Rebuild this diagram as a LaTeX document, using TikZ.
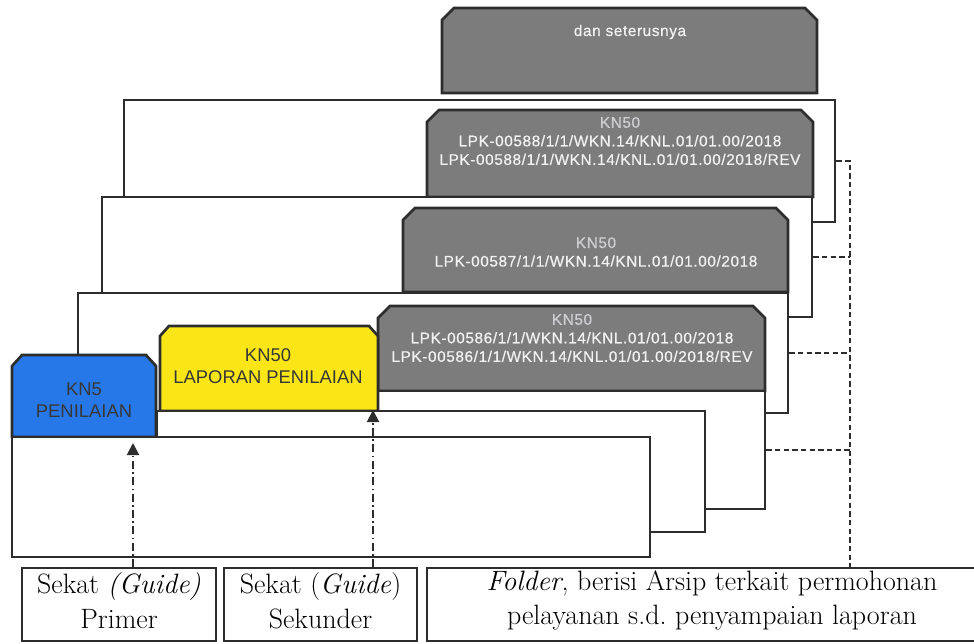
\documentclass[tikz,border=0pt]{standalone}
\usepackage{fontspec}
\usetikzlibrary{arrows.meta,fit}
\newfontfamily\tabfont[LetterSpace=4,FakeBold=0.6]{Liberation Sans}
\newfontfamily\guidefont{Liberation Sans}
\definecolor{outline}{RGB}{45,45,45}
\definecolor{tabgray}{RGB}{124,124,124}
\definecolor{tabwhite}{RGB}{242,242,242}
\definecolor{tablight}{RGB}{205,205,210}
\definecolor{guideblue}{RGB}{38,120,232}
\definecolor{guideyellow}{RGB}{250,230,22}
\definecolor{guidetext}{RGB}{55,55,55}
\tikzset{
    folderbox/.style={draw=outline, fill=white, line width=2pt, inner sep=0pt},
    tabpath/.style={draw=outline, fill=tabgray, line width=2pt, line join=miter},
    tabtext/.style={align=center, text=tabwhite, font=\tabfont\fontsize{11.5}{13.9}\selectfont},
    guidetext/.style={align=center, text=guidetext, font=\guidefont\fontsize{13.8}{16.5}\selectfont},
    labelbox/.style={draw=outline, line width=1.2pt, inner sep=0pt},
    labeltext/.style={align=center, yshift=3pt, font=\fontsize{21}{26}\selectfont},
    busline/.style={draw=outline, line width=1.3pt, dash pattern=on 4pt off 2.5pt},
    guidearrow/.style={-{Triangle[length=9pt,width=9pt]}, draw=outline, line width=1.5pt, dash pattern=on 6pt off 2.5pt on 1.3pt off 2.5pt}
}
\begin{document}
\begin{tikzpicture}[x=0.75pt,y=-0.75pt]
    \useasboundingbox (0,0) rectangle (974,643);
    % tab paling belakang
    \filldraw[tabpath] (442,93) -- (442,20) -- (454,8) -- (805,8) -- (817,20) -- (817,93) -- cycle;
    \node[tabtext] (tdan) at (630,32) {dan seterusnya};
    % folder LPK-00588
    \node[folderbox, fit={(124,100) (835,222)}] (fA) {};
    \filldraw[tabpath] (427,197) -- (427,122) -- (439,110) -- (801,110) -- (813,122) -- (813,197) -- cycle;
    \node[tabtext] (t588) at (620,141) {\textcolor{tablight}{KN50}\\LPK-00588/1/1/WKN.14/KNL.01/01.00/2018\\LPK-00588/1/1/WKN.14/KNL.01/01.00/2018/REV};
    % folder LPK-00587
    \node[folderbox, fit={(102,197) (812,317)}] (fB) {};
    \filldraw[tabpath] (403,292) -- (403,220) -- (415,208) -- (776,208) -- (788,220) -- (788,292) -- cycle;
    \node[tabtext] (t587) at (596,252) {\textcolor{tablight}{KN50}\\LPK-00587/1/1/WKN.14/KNL.01/01.00/2018};
    % folder LPK-00586
    \node[folderbox, fit={(78,293) (788,413)}] (fC) {};
    \filldraw[tabpath] (378,391) -- (378,318) -- (390,306) -- (753,306) -- (765,318) -- (765,391) -- cycle;
    \node[tabtext] (t586) at (572,338) {\textcolor{tablight}{KN50}\\LPK-00586/1/1/WKN.14/KNL.01/01.00/2018\\LPK-00586/1/1/WKN.14/KNL.01/01.00/2018/REV};
    \node[folderbox, fit={(300,391) (765,509)}] (fD) {};
    % sekat sekunder
    \filldraw[tabpath, fill=guideyellow] (160,411) -- (160,336) -- (169,326) -- (369,326) -- (378,336) -- (378,411) -- cycle;
    \node[guidetext] (kn50) at (268,366) {KN50\\LAPORAN PENILAIAN};
    \node[folderbox, fit={(157,411) (705,532)}] (fE) {};
    % sekat primer
    \filldraw[tabpath, fill=guideblue] (12,437) -- (12,366) -- (22,355) -- (146,355) -- (156,366) -- (156,437) -- cycle;
    \node[guidetext] (kn5) at (84,400) {KN5\\PENILAIAN};
    \node[folderbox, fit={(12,437) (650,557)}] (fF) {};
    % keterangan
    \node[labelbox, fit={(22,568) (216,641)}, label={[labeltext]center:{Sekat \textit{(Guide)}\\Primer}}] (lbl1) {};
    \node[labelbox, fit={(224,568) (417,641)}, label={[labeltext]center:{Sekat (\textit{Guide})\\Sekunder}}] (lbl2) {};
    \node[labelbox, fit={(427,568) (997,641)}, label={[labeltext]center:{\textit{Folder}, berisi Arsip terkait permohonan\\pelayanan s.d.\ penyampaian laporan}}] (lbl3) {};
    \coordinate (bus) at (850,0);
    \coordinate (tipA) at (133,443);
    \coordinate (tipB) at (373,410);
    \draw[busline] (fA.east) -- (fA.east -| bus) -- (lbl3.north -| bus);
    \foreach \f in {fB,fC,fD}
        \draw[busline] (\f.east) -- (\f.east -| bus);
    \draw[guidearrow] (lbl1.north -| tipA) -- (tipA);
    \draw[guidearrow] (lbl2.north -| tipB) -- (tipB);
\end{tikzpicture}
\end{document}
